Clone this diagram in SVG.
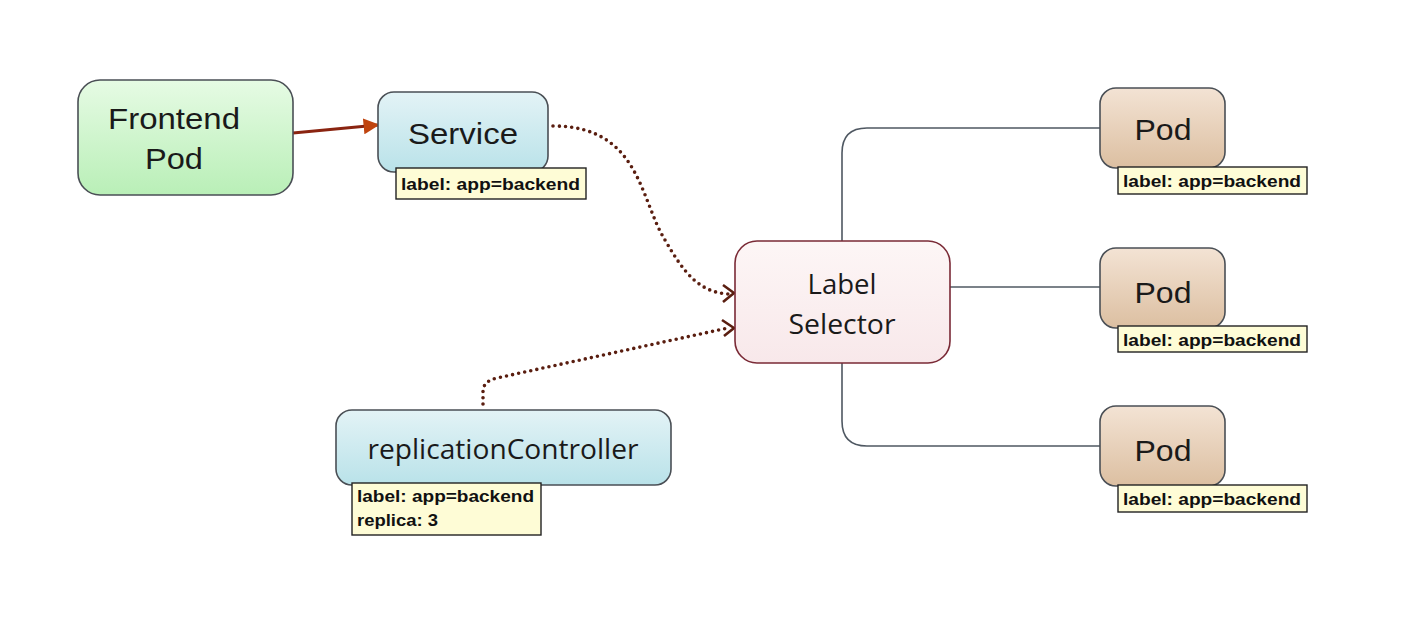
<svg xmlns="http://www.w3.org/2000/svg" width="1413" height="619" viewBox="0 0 1413 619">
<defs>
<linearGradient id="gGreen" x1="0" y1="0" x2="0" y2="1"><stop offset="0" stop-color="#e6fbe4"/><stop offset="1" stop-color="#b9efb7"/></linearGradient>
<linearGradient id="gBlue" x1="0" y1="0" x2="0" y2="1"><stop offset="0" stop-color="#e3f3f6"/><stop offset="1" stop-color="#b9e2e9"/></linearGradient>
<linearGradient id="gPod" x1="0" y1="0" x2="0" y2="1"><stop offset="0" stop-color="#f3e3d4"/><stop offset="1" stop-color="#dcbfa1"/></linearGradient>
<linearGradient id="gSel" x1="0" y1="0" x2="0" y2="1"><stop offset="0" stop-color="#fdf6f6"/><stop offset="1" stop-color="#f8e8ea"/></linearGradient>
<marker id="solidArrow" viewBox="0 0 10 10" refX="9" refY="5" markerWidth="5" markerHeight="5" orient="auto" markerUnits="strokeWidth">
<path d="M0,0 L10,5 L0,10 z" fill="#c0440f"/>
</marker>
</defs>
<style>
.node{stroke:#4a4f55;stroke-width:1.6}
.big{font-family:"Liberation Sans",Arial,sans-serif;font-size:30px;fill:#1a1a1a;text-anchor:middle}
.sel{font-family:"Open Sans","Noto Sans",sans-serif;font-size:27px;fill:#1a1a1a;text-anchor:middle}
.tag{fill:#fefcd6;stroke:#222;stroke-width:1.4}
.tagt{font-family:"Liberation Sans",Arial,sans-serif;font-size:16px;font-weight:bold;fill:#111}
.wire{fill:none;stroke:#4f5862;stroke-width:1.6}
.dots{fill:none;stroke:#5a1e10;stroke-width:3.6;stroke-linecap:round;stroke-dasharray:0 6.2}
.head{fill:none;stroke:#5a1e10;stroke-width:2.6}
</style>
<rect width="1413" height="619" fill="#ffffff"/>
<g id="connectors">
<line x1="293" y1="133" x2="378" y2="125" stroke="#8a2410" stroke-width="3.2" marker-end="url(#solidArrow)"/>
<path class="dots" d="M553,126 C640,126 640,200 665,240 C685,275 700,292 728,294"/>
<path class="head" d="M723,285 L734,293 L723,302"/>
<path class="dots" d="M483,404 L483,392 C483,384 488,380 497,378 L728,328"/>
<path class="head" d="M722,320 L734,328 L724,336"/>
<path class="wire" d="M842,241 L842,153 Q842,128 867,128 L1100,128"/>
<path class="wire" d="M950,287 L1100,287"/>
<path class="wire" d="M842,363 L842,421 Q842,446 867,446 L1100,446"/>
</g>
<g id="frontend-pod">
<rect class="node" x="78" y="80" width="215" height="115" rx="22" fill="url(#gGreen)"/>
<text class="big" x="174" y="129" textLength="132" lengthAdjust="spacingAndGlyphs">Frontend</text>
<text class="big" x="174" y="169" textLength="58" lengthAdjust="spacingAndGlyphs">Pod</text>
</g>
<g id="service">
<rect class="node" x="378" y="92" width="170" height="80" rx="16" fill="url(#gBlue)"/>
<text class="big" x="463" y="144" textLength="110" lengthAdjust="spacingAndGlyphs">Service</text>
<rect class="tag" x="396" y="168" width="190" height="31"/>
<text class="tagt" x="401" y="190" textLength="179" lengthAdjust="spacingAndGlyphs">label: app=backend</text>
</g>
<g id="label-selector">
<rect x="735" y="241" width="215" height="122" rx="22" fill="url(#gSel)" stroke="#7a2a36" stroke-width="1.6"/>
<text class="sel" x="842" y="294" textLength="69" lengthAdjust="spacingAndGlyphs">Label</text>
<text class="sel" x="842" y="334" textLength="107" lengthAdjust="spacingAndGlyphs">Selector</text>
</g>
<g id="replication-controller">
<rect class="node" x="336" y="410" width="335" height="75" rx="16" fill="url(#gBlue)"/>
<text class="sel" x="503" y="459" textLength="271" lengthAdjust="spacingAndGlyphs">replicationController</text>
<rect class="tag" x="352" y="483" width="189" height="52"/>
<text class="tagt" x="357" y="502" textLength="177" lengthAdjust="spacingAndGlyphs">label: app=backend</text>
<text class="tagt" x="357" y="526" textLength="81" lengthAdjust="spacingAndGlyphs">replica: 3</text>
</g>
<g id="pod-1">
<rect class="node" x="1100" y="88" width="125" height="80" rx="16" fill="url(#gPod)"/>
<text class="big" x="1163" y="140" textLength="57" lengthAdjust="spacingAndGlyphs">Pod</text>
<rect class="tag" x="1118" y="167" width="189" height="27"/>
<text class="tagt" x="1123" y="187" textLength="178" lengthAdjust="spacingAndGlyphs">label: app=backend</text>
</g>
<g id="pod-2">
<rect class="node" x="1100" y="248" width="125" height="80" rx="16" fill="url(#gPod)"/>
<text class="big" x="1163" y="303" textLength="57" lengthAdjust="spacingAndGlyphs">Pod</text>
<rect class="tag" x="1118" y="326" width="189" height="26"/>
<text class="tagt" x="1123" y="346" textLength="178" lengthAdjust="spacingAndGlyphs">label: app=backend</text>
</g>
<g id="pod-3">
<rect class="node" x="1100" y="406" width="125" height="80" rx="16" fill="url(#gPod)"/>
<text class="big" x="1163" y="461" textLength="57" lengthAdjust="spacingAndGlyphs">Pod</text>
<rect class="tag" x="1118" y="485" width="189" height="27"/>
<text class="tagt" x="1123" y="505" textLength="178" lengthAdjust="spacingAndGlyphs">label: app=backend</text>
</g>
</svg>
